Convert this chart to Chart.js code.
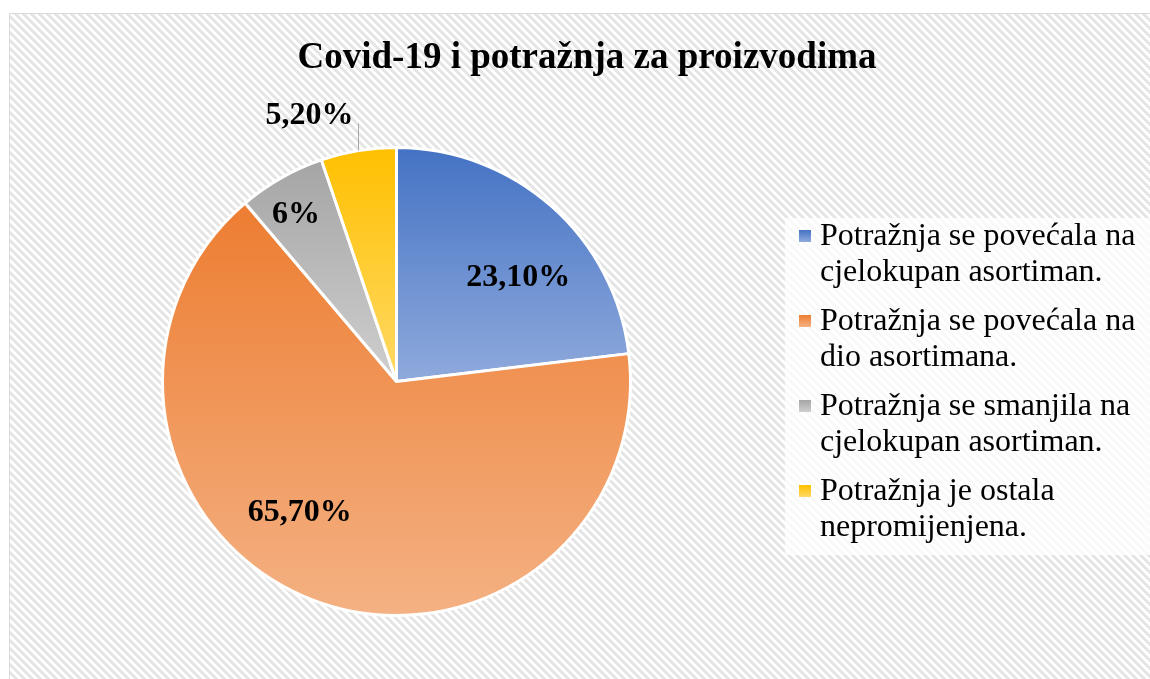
<!DOCTYPE html>
<html>
<head>
<meta charset="utf-8">
<script src="https://cdn.jsdelivr.net/npm/chart.js@4.4.1/dist/chart.umd.min.js"></script>
<style>
html,body{margin:0;padding:0;background:#fff;overflow:hidden;}
#c{display:block;}
</style>
</head>
<body>
<canvas id="c" width="1150" height="679"></canvas>
<script>
// ---- data ----
const chartTitle = 'Covid-19 i potražnja za proizvodima';
const categories = [
  'Potražnja se povećala na cjelokupan asortiman.',
  'Potražnja se povećala na dio asortimana.',
  'Potražnja se smanjila na cjelokupan asortiman.',
  'Potražnja je ostala nepromijenjena.'
];
const values = [23.1, 65.7, 6, 5.2];
const valueLabels = ['23,10%', '65,70%', '6%', '5,20%'];

// ---- styles ----
const baseColors = ['#4472C4', '#ED7D31', '#A5A5A5', '#FFC000'];
const lightColors = ['#8FAADC', '#F4B183', '#CFCFCF', '#FFD966'];
const labelPlacement = [
  {angleShift: 7.4, radius: 0.69},
  {angleShift: 15.4, radius: 0.69},
  {angleShift: -1.2, radius: 0.84},
  {outside: true, leader: 27}
];
const BORDER_W = 3;
const serif = '"Liberation Serif", "Times New Roman", serif';

function makePattern() {
  const p = document.createElement('canvas');
  p.width = 8; p.height = 8;
  const pc = p.getContext('2d');
  const img = pc.createImageData(8, 8);
  for (let y = 0; y < 8; y++) {
    for (let x = 0; x < 8; x++) {
      const k = (((x - y) % 8) + 8) % 8;
      const v = k < 4 ? 229 : 255;
      const o = (y * 8 + x) * 4;
      img.data[o] = v; img.data[o+1] = v; img.data[o+2] = v; img.data[o+3] = 255;
    }
  }
  pc.putImageData(img, 0, 0);
  return p;
}
const patternCanvas = makePattern();

function sliceGradient(ctx) {
  const chart = ctx.chart;
  const i = ctx.dataIndex;
  const ca = chart.chartArea;
  if (!ca || i === undefined) return baseColors[i || 0];
  const cx = (ca.left + ca.right) / 2, cy = (ca.top + ca.bottom) / 2;
  const r = (Math.min(ca.right - ca.left, ca.bottom - ca.top) - BORDER_W) / 2;
  const total = values.reduce((s, v) => s + v, 0);
  let a0 = -Math.PI / 2;
  for (let j = 0; j < i; j++) a0 += values[j] / total * Math.PI * 2;
  const a1 = a0 + values[i] / total * Math.PI * 2;
  const ys = [cy, cy + r * Math.sin(a0), cy + r * Math.sin(a1)];
  [-Math.PI / 2, Math.PI / 2, Math.PI * 1.5].forEach(a => {
    if (a >= a0 && a <= a1) ys.push(cy + r * Math.sin(a));
  });
  const y0 = Math.min(...ys), y1 = Math.max(...ys);
  const g = chart.ctx.createLinearGradient(0, y0, 0, y1 + 0.01);
  g.addColorStop(0, baseColors[i]);
  g.addColorStop(1, lightColors[i]);
  return g;
}

const backgroundPlugin = {
  id: 'bgPattern',
  beforeDraw(chart) {
    const c = chart.ctx;
    c.save();
    c.fillStyle = '#ffffff';
    c.fillRect(0, 0, chart.width, chart.height);
    c.fillStyle = c.createPattern(patternCanvas, 'repeat');
    c.fillRect(10, 14, chart.width - 10, chart.height - 14);
    c.strokeStyle = '#D9D9D9';
    c.lineWidth = 1;
    c.beginPath();
    c.moveTo(9.5, chart.height + 5);
    c.lineTo(9.5, 13.5);
    c.lineTo(chart.width + 5, 13.5);
    c.stroke();
    c.restore();
  }
};

const labelsPlugin = {
  id: 'sliceLabels',
  afterDatasetsDraw(chart) {
    const c = chart.ctx;
    const meta = chart.getDatasetMeta(0);
    c.save();
    c.font = 'bold 32px ' + serif;
    c.fillStyle = '#000';
    meta.data.forEach((el, i) => {
      const p = labelPlacement[i];
      const mid = (el.startAngle + el.endAngle) / 2;
      if (p.outside) {
        const ex = el.x + el.outerRadius * Math.cos(mid);
        const ey = el.y + el.outerRadius * Math.sin(mid);
        const tx = Math.round(ex) + 0.5;
        c.strokeStyle = '#A6A6A6';
        c.lineWidth = 1;
        c.beginPath();
        c.moveTo(tx, ey);
        c.lineTo(tx, ey - p.leader);
        c.stroke();
        c.textAlign = 'right';
        c.textBaseline = 'middle';
        c.fillText(valueLabels[i], tx - 5, ey - p.leader - 8);
      } else {
        const a = mid + p.angleShift * Math.PI / 180;
        const rr = el.outerRadius * p.radius;
        c.textAlign = 'center';
        c.textBaseline = 'middle';
        c.fillText(valueLabels[i], el.x + rr * Math.cos(a), el.y + rr * Math.sin(a) + 2);
      }
    });
    c.restore();
  }
};

function wrapText(c, text, maxW) {
  const words = text.split(' ');
  const lines = [];
  let cur = '';
  words.forEach(w => {
    const t = cur ? cur + ' ' + w : w;
    if (c.measureText(t).width > maxW && cur) { lines.push(cur); cur = w; }
    else cur = t;
  });
  if (cur) lines.push(cur);
  return lines;
}

const titleLegendPlugin = {
  id: 'titleLegend',
  afterDraw(chart) {
    const c = chart.ctx;
    c.save();
    // title
    c.font = 'bold 37px ' + serif;
    c.fillStyle = '#000';
    c.textAlign = 'center';
    c.textBaseline = 'alphabetic';
    c.fillText(chartTitle, 587, 68);
    // legend box
    c.fillStyle = 'rgba(255,255,255,0.75)';
    c.fillRect(785, 218, chart.width - 785, 337);
    // legend items
    c.font = '32px ' + serif;
    c.textAlign = 'left';
    let base = 245;
    categories.forEach((cat, i) => {
      const g = c.createLinearGradient(0, base - 15, 0, base - 3);
      g.addColorStop(0, baseColors[i]);
      g.addColorStop(1, lightColors[i]);
      c.fillStyle = g;
      c.fillRect(799, base - 15, 12, 12);
      c.fillStyle = '#000';
      const lines = wrapText(c, cat, 326);
      lines.forEach((ln, k) => c.fillText(ln, 820, base + k * 36));
      base += 85;
    });
    c.restore();
  }
};

new Chart(document.getElementById('c'), {
  type: 'pie',
  data: {
    labels: categories,
    datasets: [{
      data: values,
      backgroundColor: sliceGradient,
      borderColor: '#ffffff',
      borderWidth: BORDER_W
    }]
  },
  options: {
    responsive: false,
    animation: false,
    devicePixelRatio: 1,
    layout: { padding: { left: 161, right: 518, top: 146, bottom: 62 } },
    plugins: {
      legend: { display: false },
      title: { display: false },
      tooltip: { enabled: false }
    }
  },
  plugins: [backgroundPlugin, labelsPlugin, titleLegendPlugin]
});
</script>
</body>
</html>
